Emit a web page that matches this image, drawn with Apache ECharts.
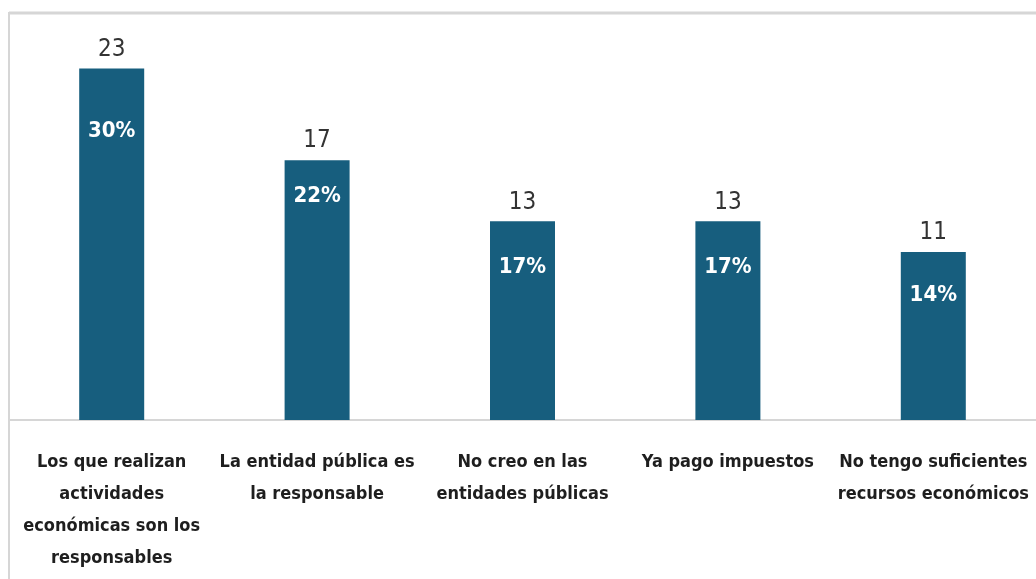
<!DOCTYPE html>
<html>
<head>
<meta charset="utf-8">
<script src="https://cdn.jsdelivr.net/npm/echarts@6/dist/echarts.min.js"></script>
<style>
  html, body { margin: 0; padding: 0; background: #fff; }
  #chart { width: 1036px; height: 579px; }
</style>
</head>
<body>
<div id="chart"></div>
<script>
// Reasons given, with respondent counts and their share of the total
const categories = [
  'Los que realizan\nactividades\neconómicas son los\nresponsables',
  'La entidad pública es\nla responsable',
  'No creo en las\nentidades públicas',
  'Ya pago impuestos',
  'No tengo suficientes\nrecursos económicos'
];
const counts = [23, 17, 13, 13, 11];
const percents = [30, 22, 17, 17, 14];

// How far below each bar's top the percentage label sits
const pctLabelDrop = [52, 25, 35, 35, 32];

const narrow = '"Liberation Sans Narrow", "DejaVu Sans Condensed", "Roboto", sans-serif';

const chart = echarts.init(document.getElementById('chart'));

chart.setOption({
  animation: false,
  backgroundColor: '#ffffff',
  graphic: [
    // frame: top and left edges
    { type: 'line', shape: { x1: 9, y1: 13, x2: 1036, y2: 13 },
      style: { stroke: '#d6d6d6', lineWidth: 3 }, silent: true },
    { type: 'line', shape: { x1: 9, y1: 12, x2: 9, y2: 579 },
      style: { stroke: '#d6d6d6', lineWidth: 2 }, silent: true }
  ],
  grid: { left: 9, right: -3, top: 38, bottom: 159, containLabel: false },
  xAxis: {
    type: 'category',
    data: categories,
    axisLine: { lineStyle: { color: '#d6d6d6', width: 2 } },
    axisTick: { show: false },
    axisLabel: {
      interval: 0,
      margin: 26,
      color: '#1e1e1e',
      fontFamily: narrow,
      fontWeight: 'bold',
      fontSize: 18,
      lineHeight: 32,
      align: 'center'
    }
  },
  yAxis: {
    type: 'value',
    min: 0,
    max: 25,
    show: false,
    splitLine: { show: false }
  },
  series: [
    {
      type: 'bar',
      data: counts,
      barWidth: 65,
      itemStyle: { color: '#175e7e' },
      label: {
        show: true,
        position: 'top',
        distance: 7,
        color: '#333333',
        fontFamily: narrow,
        fontSize: 24,
        formatter: p => String(p.value)
      }
    },
    {
      // percentage labels drawn inside the bars, on an invisible twin series
      type: 'bar',
      data: counts.map((v, i) => ({
        value: v,
        label: { distance: pctLabelDrop[i] }
      })),
      barWidth: 65,
      barGap: '-100%',
      itemStyle: { color: 'transparent' },
      silent: true,
      label: {
        show: true,
        position: 'insideTop',
        color: '#ffffff',
        fontFamily: narrow,
        fontWeight: 'bold',
        fontSize: 22,
        formatter: p => percents[p.dataIndex] + '%'
      }
    }
  ]
});
</script>
</body>
</html>
